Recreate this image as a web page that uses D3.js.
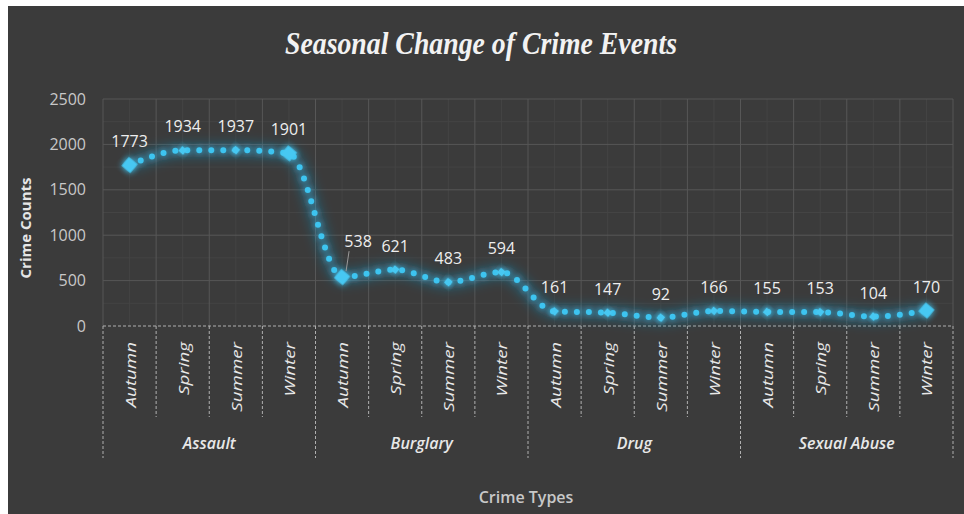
<!DOCTYPE html>
<html>
<head>
<meta charset="utf-8">
<script src="https://cdn.jsdelivr.net/npm/d3@7"></script>
<style>
  body { margin: 0; background: #ffffff; }
  svg { display: block; }
</style>
</head>
<body>
<script>
// Chart data
var groups = ["Assault", "Burglary", "Drug", "Sexual Abuse"];
var seasons = ["Autumn", "Spring", "Summer", "Winter"];
var counts = [1773, 1934, 1937, 1901, 538, 621, 483, 594, 161, 147, 92, 166, 155, 153, 104, 170];
var yTicks = [0, 500, 1000, 1500, 2000, 2500];
var bigMarkers = [0, 3, 4, 15];

var width = 964, height = 514;
var plot = {left: 103, right: 953, top: 99, bottom: 326};

var svg = d3.select("body").append("svg")
    .attr("width", width)
    .attr("height", height);

// dark panel with a thin white edge top/left
svg.append("rect")
    .attr("x", 8).attr("y", 6)
    .attr("width", width - 8).attr("height", height - 6)
    .attr("fill", "#3b3b3b");

var defs = svg.append("defs");
var glow = defs.append("filter").attr("id", "glow")
    .attr("x", "-50%").attr("y", "-50%").attr("width", "200%").attr("height", "200%");
glow.append("feGaussianBlur").attr("stdDeviation", 3).attr("result", "blur");
var merge = glow.append("feMerge");
merge.append("feMergeNode").attr("in", "blur");
merge.append("feMergeNode").attr("in", "SourceGraphic");

var soft = defs.append("filter").attr("id", "soft")
    .attr("x", "-50%").attr("y", "-50%").attr("width", "200%").attr("height", "200%");
soft.append("feGaussianBlur").attr("stdDeviation", 6);

var idx = d3.range(counts.length);

var x = d3.scaleBand()
    .domain(idx)
    .range([plot.left, plot.right]);

var y = d3.scaleLinear()
    .domain([0, 2500])
    .range([plot.bottom, plot.top]);

// Title
svg.append("text")
    .attr("x", 481)
    .attr("y", 54)
    .attr("text-anchor", "middle")
    .attr("textLength", 392)
    .attr("lengthAdjust", "spacingAndGlyphs")
    .style("font-family", "'Liberation Serif', serif")
    .style("font-style", "italic")
    .style("font-weight", "bold")
    .style("font-size", "32px")
    .style("fill", "#f2f2f2")
    .text("Seasonal Change of Crime Events");

// Gridlines: minor then major
var grid = svg.append("g");
grid.selectAll(".hminor")
    .data(d3.range(250, 2500, 500))
    .enter().append("line")
    .attr("x1", plot.left).attr("x2", plot.right)
    .attr("y1", d => y(d)).attr("y2", d => y(d))
    .attr("stroke", "#444").attr("stroke-width", 1);
grid.selectAll(".vminor")
    .data(idx)
    .enter().append("line")
    .attr("x1", d => x(d) + x.bandwidth() / 2).attr("x2", d => x(d) + x.bandwidth() / 2)
    .attr("y1", plot.top).attr("y2", plot.bottom)
    .attr("stroke", "#444").attr("stroke-width", 1);
grid.selectAll(".hmajor")
    .data(yTicks.filter(d => d > 0))
    .enter().append("line")
    .attr("x1", plot.left).attr("x2", plot.right)
    .attr("y1", d => y(d)).attr("y2", d => y(d))
    .attr("stroke", "#575757").attr("stroke-width", 1);
grid.selectAll(".vmajor")
    .data(d3.range(counts.length + 1))
    .enter().append("line")
    .attr("x1", d => plot.left + d * x.bandwidth()).attr("x2", d => plot.left + d * x.bandwidth())
    .attr("y1", plot.top).attr("y2", plot.bottom)
    .attr("stroke", "#575757").attr("stroke-width", 1);

// Y axis
var yAxis = svg.append("g")
    .attr("transform", "translate(" + (plot.left - 17) + ",0)")
    .call(d3.axisLeft(y).tickValues(yTicks).tickFormat(d3.format("d")).tickSize(0).tickPadding(0));
yAxis.select(".domain").remove();
yAxis.selectAll("text")
    .style("font-family", "'Open Sans', sans-serif")
    .style("font-size", "16px")
    .style("fill", "#c8c8c8");

svg.append("text")
    .attr("transform", "translate(31,228) rotate(-90)")
    .attr("text-anchor", "middle")
    .style("font-family", "'Open Sans', sans-serif")
    .style("font-weight", "bold")
    .style("font-size", "15px")
    .style("fill", "#e6e6e6")
    .text("Crime Counts");

// X axis: dashed multi-level category axis
var xAxis = svg.append("g");
xAxis.append("line")
    .attr("x1", plot.left).attr("x2", plot.right)
    .attr("y1", plot.bottom).attr("y2", plot.bottom)
    .attr("stroke", "#b0b0b0").attr("stroke-dasharray", "3,2");
xAxis.selectAll(".tick-line")
    .data(d3.range(counts.length + 1))
    .enter().append("line")
    .attr("x1", d => plot.left + d * x.bandwidth()).attr("x2", d => plot.left + d * x.bandwidth())
    .attr("y1", plot.bottom)
    .attr("y2", d => d % seasons.length === 0 ? 458 : 417)
    .attr("stroke", "#b0b0b0").attr("stroke-dasharray", "3,2");

xAxis.selectAll(".season")
    .data(idx)
    .enter().append("text")
    .attr("transform", d => "translate(" + (x(d) + x.bandwidth() / 2 + 6) + ",342) rotate(-90) scale(1.25,1)")
    .attr("text-anchor", "end")
    .style("font-family", "'Open Sans', sans-serif")
    .style("font-style", "italic")
    .style("font-size", "15px")
    .style("fill", "#e8e8e8")
    .text(d => seasons[d % seasons.length]);

xAxis.selectAll(".group")
    .data(groups)
    .enter().append("text")
    .attr("x", (d, i) => plot.left + (i * seasons.length + seasons.length / 2) * x.bandwidth())
    .attr("y", 449)
    .attr("text-anchor", "middle")
    .style("font-family", "'Open Sans', sans-serif")
    .style("font-style", "italic")
    .style("font-weight", "600")
    .style("font-size", "16px")
    .style("fill", "#e8e8e8")
    .text(d => d);

svg.append("text")
    .attr("x", 526)
    .attr("y", 503)
    .attr("text-anchor", "middle")
    .style("font-family", "'Open Sans', sans-serif")
    .style("font-weight", "600")
    .style("font-size", "16px")
    .style("fill", "#c8c8c8")
    .text("Crime Types");

// Line
var cx = i => x(i) + x.bandwidth() / 2;
var line = d3.line()
    .x((d, i) => cx(i))
    .y(d => y(d))
    .curve(d3.curveMonotoneX);

svg.append("path")
    .attr("d", line(counts))
    .attr("fill", "none")
    .attr("stroke", "#1a8fc4")
    .attr("stroke-width", 14)
    .attr("stroke-opacity", 0.35)
    .attr("filter", "url(#soft)");

svg.append("path")
    .attr("d", line(counts))
    .attr("fill", "none")
    .attr("stroke", "#3cc4f0")
    .attr("stroke-width", 6)
    .attr("stroke-linecap", "round")
    .attr("stroke-dasharray", "0,12")
    .attr("filter", "url(#glow)");

// Markers: squares turned into diamonds
var square = d3.symbol().type(d3.symbolSquare);
svg.selectAll(".marker")
    .data(counts)
    .enter().append("path")
    .attr("transform", (d, i) => "translate(" + cx(i) + "," + y(d) + ") rotate(40)")
    .attr("d", (d, i) => square.size(bigMarkers.includes(i) ? 130 : 40)())
    .attr("fill", "#46c8f2")
    .attr("filter", "url(#glow)");

// Data labels
var labels = svg.append("g");
counts.forEach(function(d, i) {
    var lx = cx(i), ly = y(d) - 18;
    if (i === 4) {
        // label pulled up and right with a leader line
        lx = cx(i) + 16;
        ly = y(d) - 30;
        labels.append("line")
            .attr("x1", cx(i) + 4).attr("y1", y(d) - 6)
            .attr("x2", cx(i) + 7).attr("y2", ly + 4)
            .attr("stroke", "#9a9a9a").attr("stroke-width", 1);
    }
    labels.append("text")
        .attr("x", lx)
        .attr("y", ly)
        .attr("text-anchor", "middle")
        .style("font-family", "'Open Sans', sans-serif")
        .style("font-size", "16px")
        .style("fill", "#eeeeee")
        .text(d);
});
</script>
</body>
</html>
